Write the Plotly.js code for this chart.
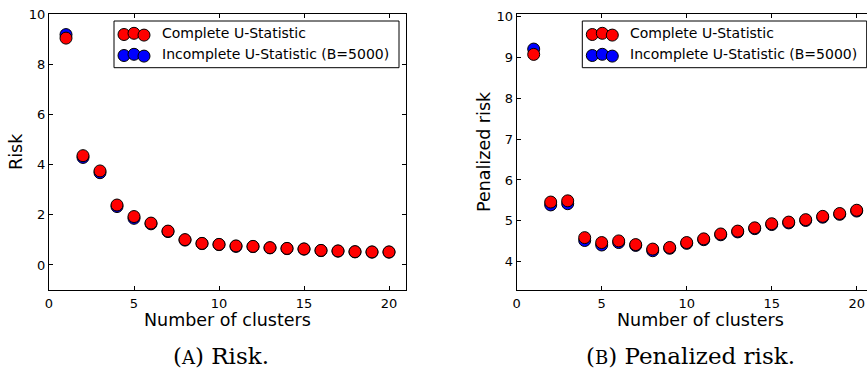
<!DOCTYPE html>
<html>
<head>
<meta charset="utf-8">
<script src="https://cdn.plot.ly/plotly-3.0.1.min.js"></script>
<style>
  html, body { margin: 0; padding: 0; background: #ffffff; }
  #chart { width: 867px; height: 369px; }
</style>
</head>
<body>
<div id="chart"></div>
<script>
// Number of clusters (x values shared by both panels)
const clusters = [1, 2, 3, 4, 5, 6, 7, 8, 9, 10, 11, 12, 13, 14, 15, 16, 17, 18, 19, 20];

// Panel (A): risk
const riskComplete   = [9.05, 4.36, 3.75, 2.39, 1.93, 1.67, 1.35, 1.01, 0.86, 0.82, 0.76, 0.74, 0.69, 0.66, 0.64, 0.58, 0.56, 0.53, 0.52, 0.52];
const riskIncomplete = [9.19, 4.29, 3.68, 2.33, 1.86, 1.64, 1.33, 0.99, 0.85, 0.81, 0.74, 0.73, 0.68, 0.65, 0.63, 0.57, 0.55, 0.52, 0.51, 0.51];

// Panel (B): penalized risk
const penalizedComplete   = [9.07, 5.46, 5.49, 4.59, 4.47, 4.51, 4.42, 4.31, 4.35, 4.47, 4.56, 4.68, 4.75, 4.83, 4.93, 4.97, 5.03, 5.11, 5.18, 5.26];
const penalizedIncomplete = [9.20, 5.39, 5.42, 4.52, 4.41, 4.47, 4.40, 4.27, 4.33, 4.45, 4.54, 4.66, 4.73, 4.81, 4.91, 4.95, 5.01, 5.09, 5.16, 5.24];

const seriesNames  = ['Complete U-Statistic', 'Incomplete U-Statistic (B=5000)'];
const seriesColors = ['#ff0000', '#0000ff'];
const xTicks       = [0, 5, 10, 15, 20];
const riskTicks    = [0, 2, 4, 6, 8, 10];
const penTicks     = [4, 5, 6, 7, 8, 9, 10];
const xTitle       = 'Number of clusters';
const yTitles      = ['Risk', 'Penalized risk'];
const captions     = ['(<span style="font-size:18px">A</span>) Risk.', '(<span style="font-size:18px">B</span>) Penalized risk.'];

// ---- page geometry (pixels) ----
const W = 867, H = 369;
const px = x => x / W;
const py = y => 1 - y / H;
const PLOT_TOP = 14.3, PLOT_BOTTOM = 290;
const LEFT_X0 = 49, LEFT_X1 = 406;
const RIGHT_X0 = 516.7;

const sans = 'DejaVu Sans, Liberation Sans, sans-serif';
const serif = 'DejaVu Serif, Liberation Serif, serif';

function dots(x, y, color, xa, ya) {
  return {
    type: 'scatter', mode: 'markers', x: x, y: y,
    xaxis: xa, yaxis: ya, showlegend: false, hoverinfo: 'skip',
    marker: { size: 12, color: color, line: { color: '#000000', width: 1 } }
  };
}

const traces = [
  // incomplete first so the complete statistic sits on top
  dots(clusters, riskIncomplete, seriesColors[1], 'x', 'y'),
  dots(clusters, riskComplete, seriesColors[0], 'x', 'y'),
  dots(clusters, penalizedIncomplete, seriesColors[1], 'x2', 'y2'),
  dots(clusters, penalizedComplete, seriesColors[0], 'x2', 'y2')
];

// ---- legend boxes with three sample markers per entry ----
const legendBoxes = [
  { x0: 114, x1: 399 },
  { x0: 582.3, x1: 866.7 }
];
const LEG_TOP = 21, LEG_BOTTOM = 67.7;
const rowY = [33.3, 54.3];
const sampleDx = [10, 20, 30];
const sampleDy = [1.2, 0, 1.8];
const shapes = [];
const annotations = [];

legendBoxes.forEach(b => {
  shapes.push({
    type: 'rect', xref: 'paper', yref: 'paper', layer: 'above',
    x0: px(b.x0), x1: px(b.x1), y0: py(LEG_BOTTOM), y1: py(LEG_TOP),
    line: { color: '#000000', width: 1 }, fillcolor: 'rgba(0,0,0,0)'
  });
  seriesNames.forEach((name, i) => {
    const mx = sampleDx.map(d => b.x0 + d);
    const my = sampleDy.map(d => rowY[i] + d);
    const t = dots(mx, my, seriesColors[i], 'x3', 'y3');
    t.cliponaxis = false;
    traces.push(t);
    annotations.push({
      xref: 'paper', yref: 'paper', x: px(b.x0 + 46), y: py(rowY[i]),
      xanchor: 'left', yanchor: 'middle', showarrow: false,
      text: name, font: { family: sans, size: 14, color: '#000000' }
    });
  });
});

// ---- axis titles and captions ----
annotations.push(
  { xref: 'paper', yref: 'paper', x: px(228), y: py(320), xanchor: 'center', yanchor: 'middle',
    showarrow: false, text: xTitle, font: { family: sans, size: 17.5, color: '#000' } },
  { xref: 'paper', yref: 'paper', x: px(700), y: py(320), xanchor: 'center', yanchor: 'middle',
    showarrow: false, text: xTitle, font: { family: sans, size: 17.5, color: '#000' } },
  { xref: 'paper', yref: 'paper', x: px(16), y: py(152), xanchor: 'center', yanchor: 'middle',
    textangle: -90, showarrow: false, text: yTitles[0], font: { family: sans, size: 17.5, color: '#000' } },
  { xref: 'paper', yref: 'paper', x: px(484), y: py(152), xanchor: 'center', yanchor: 'middle',
    textangle: -90, showarrow: false, text: yTitles[1], font: { family: sans, size: 17.5, color: '#000' } },
  { xref: 'paper', yref: 'paper', x: px(221), y: py(356), xanchor: 'center', yanchor: 'middle',
    showarrow: false, text: captions[0], font: { family: serif, size: 23, color: '#000' } },
  { xref: 'paper', yref: 'paper', x: px(690), y: py(356), xanchor: 'center', yanchor: 'middle',
    showarrow: false, text: captions[1], font: { family: serif, size: 23, color: '#000' } }
);

const tickFont = { family: sans, size: 13, color: '#000000' };
function axis(extra) {
  return Object.assign({
    showgrid: false, zeroline: false, showline: true, linecolor: '#000000', linewidth: 1,
    ticks: 'inside', ticklen: 4, tickwidth: 1, tickcolor: '#000000',
    tickfont: tickFont, mirror: 'ticks', fixedrange: true, autorange: false
  }, extra);
}

const layout = {
  width: W, height: H,
  margin: { l: 0, r: 0, t: 0, b: 0, pad: 0 },
  paper_bgcolor: '#ffffff',
  plot_bgcolor: 'rgba(0,0,0,0)',
  showlegend: false,
  xaxis:  axis({ domain: [px(LEFT_X0), px(LEFT_X1)], range: [0, 21], tickvals: xTicks, anchor: 'y', ticklabelstandoff: 1 }),
  yaxis:  axis({ domain: [py(PLOT_BOTTOM), py(PLOT_TOP)], range: [-1, 10], tickvals: riskTicks, anchor: 'x' }),
  xaxis2: axis({ domain: [px(RIGHT_X0), 1], range: [0, (W - RIGHT_X0) / 17], tickvals: xTicks, anchor: 'y2', ticklabelstandoff: 1 }),
  yaxis2: axis({ domain: [py(PLOT_BOTTOM), py(PLOT_TOP)], range: [3.31, 10.05], tickvals: penTicks, anchor: 'x2', mirror: false }),
  xaxis3: { domain: [0, 1], range: [0, W], visible: false, fixedrange: true, anchor: 'y3' },
  yaxis3: { domain: [0, 1], range: [H, 0], visible: false, fixedrange: true, anchor: 'x3' },
  shapes: shapes,
  annotations: annotations
};

Plotly.newPlot('chart', traces, layout, { displayModeBar: false, staticPlot: true });
</script>
</body>
</html>
